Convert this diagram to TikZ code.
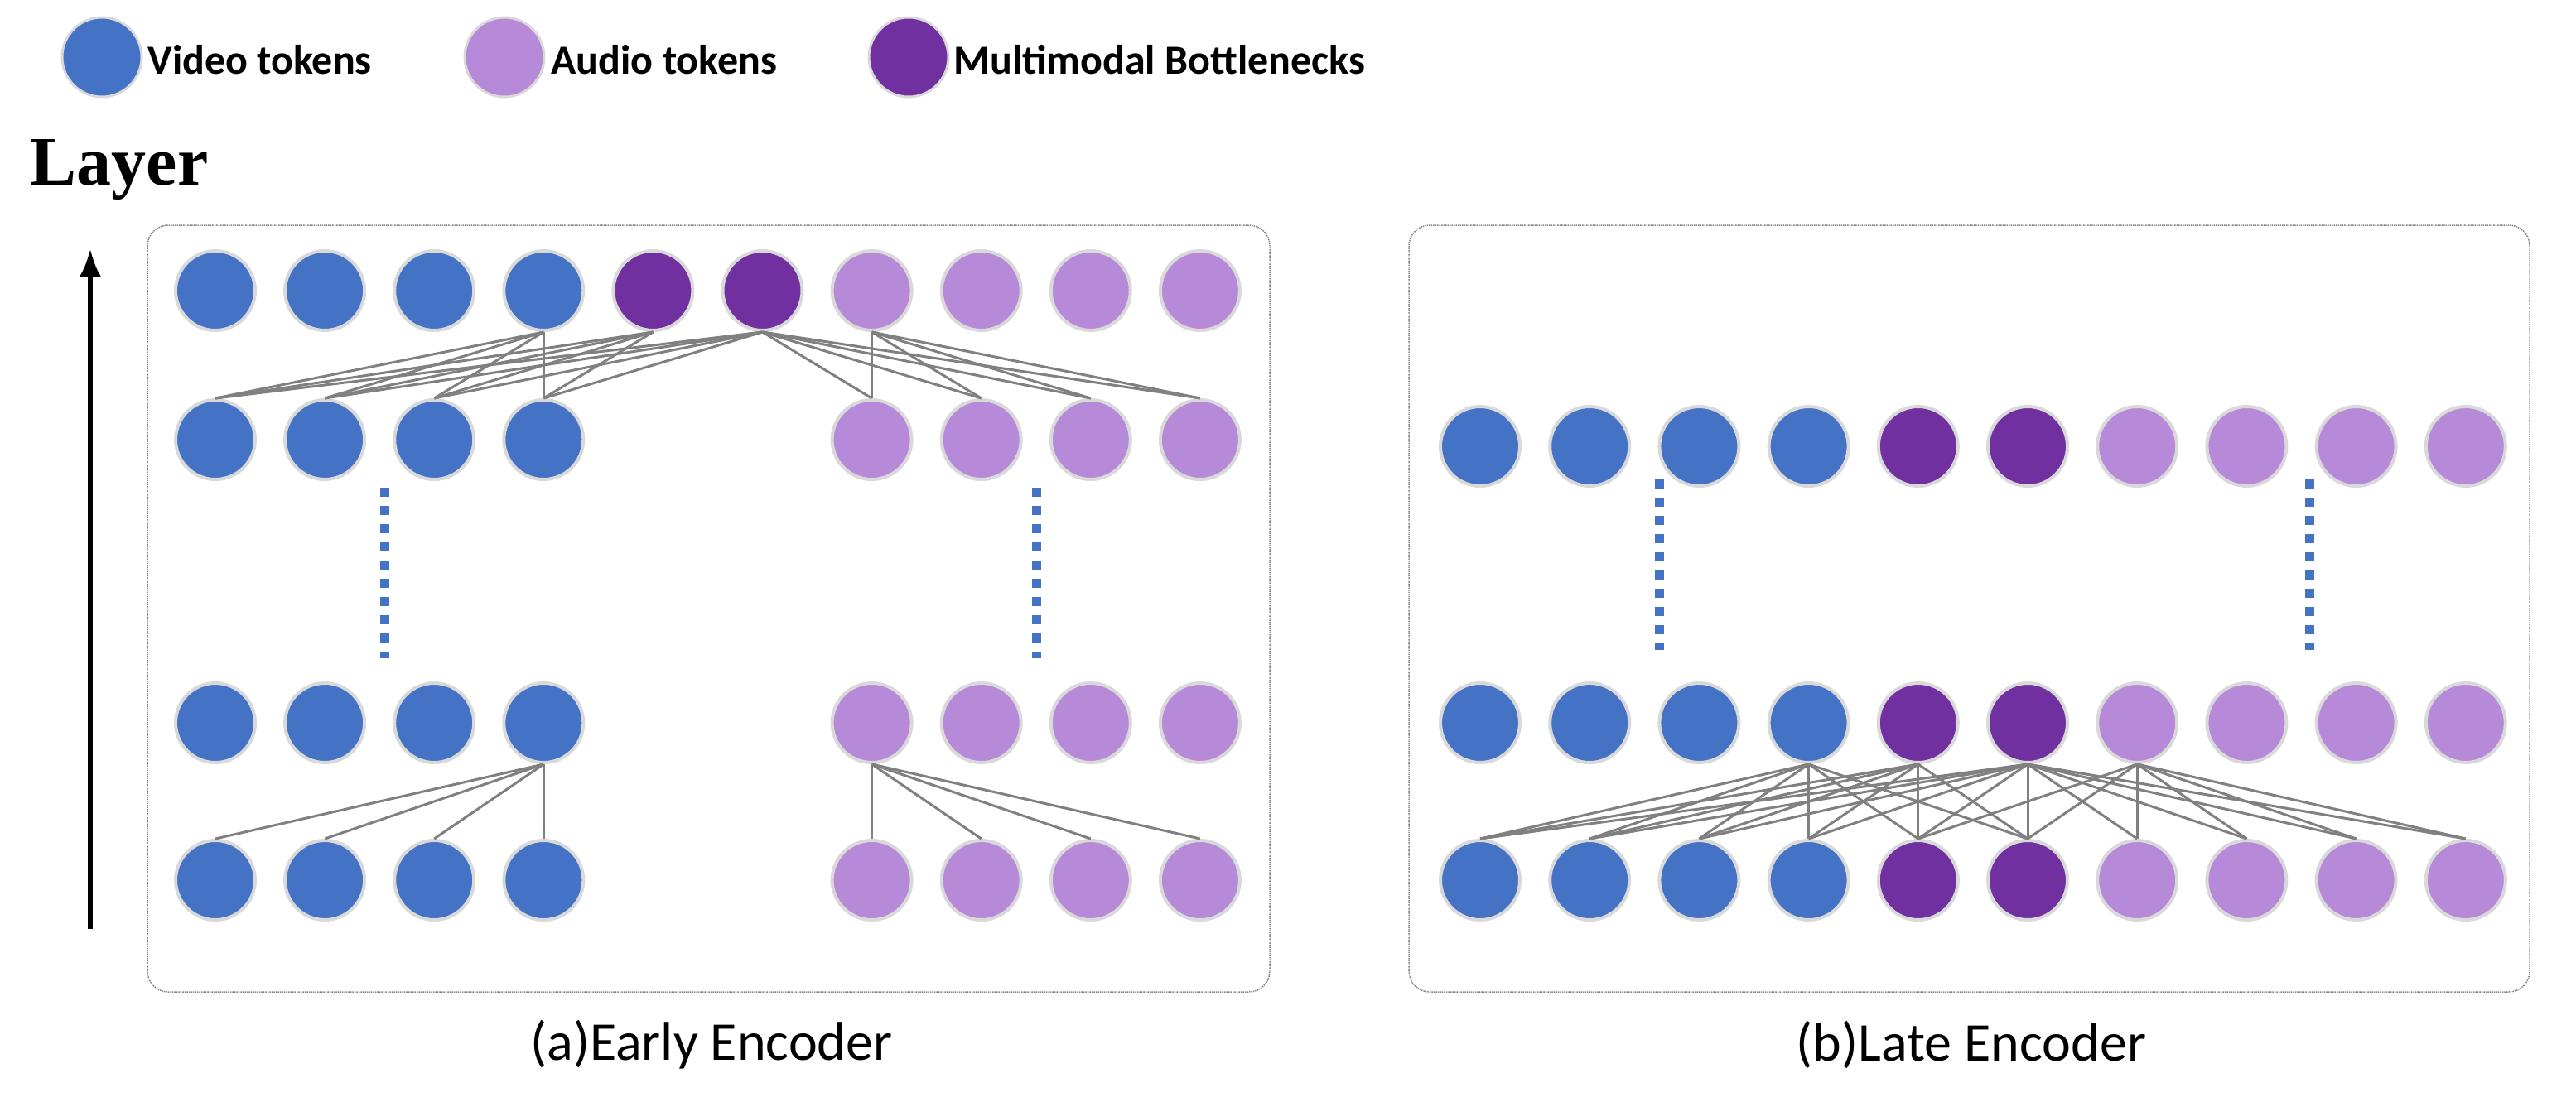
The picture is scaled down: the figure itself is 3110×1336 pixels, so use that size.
\documentclass[tikz,border=0pt]{standalone}
\usepackage{fontspec}
\usetikzlibrary{arrows.meta}
\setmainfont{Carlito}
\newfontfamily\tnr{Liberation Serif}
\definecolor{vid}{HTML}{4472C4}
\definecolor{aud}{HTML}{B789D9}
\definecolor{bot}{HTML}{7030A0}
\definecolor{rim}{HTML}{D9D9D9}
\begin{document}
\begin{tikzpicture}[x=1pt,y=-1pt,
  tok/.style={circle,minimum size=96pt,inner sep=0pt,draw=rim,line width=4pt},
  v/.style={tok,fill=vid}, a/.style={tok,fill=aud}, b/.style={tok,fill=bot},
  lg/.style={circle,minimum size=96pt,inner sep=0pt,draw=rim,line width=3pt},
  lt/.style={anchor=west,font=\fontsize{50}{60}\selectfont\bfseries},
  captxt/.style={font=\fontsize{66}{80}\selectfont},
  conn/.style={draw=gray,line width=3pt},
  frame/.style={draw=gray,densely dotted,line width=1.5pt,rounded corners=25pt},
  dots/.style={draw=vid,line width=11pt,dash pattern=on 11pt off 11pt}]
\useasboundingbox (0,0) rectangle (3110,1336);
% legend
\node[lg,fill=vid] (l1) at (123,69) {};
\node[lt] (t1) at (175,72) {Video tokens};
\node[lg,fill=aud] (l2) at (609,69) {};
\node[lt] (t2) at (662,72) {Audio tokens};
\node[lg,fill=bot] (l3) at (1097,69) {};
\node[lt] (t3) at (1148,72) {Multimodal Bottlenecks};
% layer
\node[font=\fontsize{84}{96}\selectfont\bfseries\tnr] (layer) at (144,205) {Layer};
\coordinate (ab) at (109,1122);
\coordinate (at) at (109,300);
\draw[line width=6pt,-{Latex[length=34pt,width=26pt]}] (ab) -- (at);
% frames
\draw[frame] (178,272) rectangle (1533,1198);
\draw[frame] (1701,272) rectangle (3054,1198);
\node[captxt] (ca) at (859,1262) {(a)Early Encoder};
\node[captxt] (cb) at (2380,1262) {(b)Late Encoder};
% left panel
\foreach \i/\s in {0/v,1/v,2/v,3/v,4/b,5/b,6/a,7/a,8/a,9/a}
  \node[\s] (L1\i) at (260+132.1*\i,351) {};
\foreach \i/\s in {0/v,1/v,2/v,3/v,6/a,7/a,8/a,9/a}{
  \node[\s] (L2\i) at (260+132.1*\i,531) {};
  \node[\s] (L3\i) at (260+132.1*\i,873) {};
  \node[\s] (L4\i) at (260+132.1*\i,1063) {};}
\coordinate (d1t) at (464,589); \coordinate (d1b) at (464,795);
\coordinate (d2t) at (1251,589); \coordinate (d2b) at (1251,795);
\draw[dots] (d1t) -- (d1b);
\draw[dots] (d2t) -- (d2b);
\foreach \u in {3,4,5} \foreach \d in {0,1,2,3}
  \draw[conn] (L1\u.south) -- (L2\d.north);
\foreach \u in {5,6} \foreach \d in {6,7,8,9}
  \draw[conn] (L1\u.south) -- (L2\d.north);
\foreach \d in {0,1,2,3} \draw[conn] (L33.south) -- (L4\d.north);
\foreach \d in {6,7,8,9} \draw[conn] (L36.south) -- (L4\d.north);
% right panel
\foreach \i/\s in {0/v,1/v,2/v,3/v,4/b,5/b,6/a,7/a,8/a,9/a}{
  \node[\s] (R1\i) at (1787+132.2*\i,539) {};
  \node[\s] (R2\i) at (1787+132.2*\i,873) {};
  \node[\s] (R3\i) at (1787+132.2*\i,1063) {};}
\coordinate (d3t) at (2003,579); \coordinate (d3b) at (2003,785);
\coordinate (d4t) at (2788,579); \coordinate (d4b) at (2788,785);
\draw[dots] (d3t) -- (d3b);
\draw[dots] (d4t) -- (d4b);
\foreach \u in {3,4} \foreach \d in {0,1,2,3,4,5}
  \draw[conn] (R2\u.south) -- (R3\d.north);
\foreach \d in {0,...,9} \draw[conn] (R25.south) -- (R3\d.north);
\foreach \d in {4,5,6,7,8,9} \draw[conn] (R26.south) -- (R3\d.north);
\end{tikzpicture}
\end{document}
